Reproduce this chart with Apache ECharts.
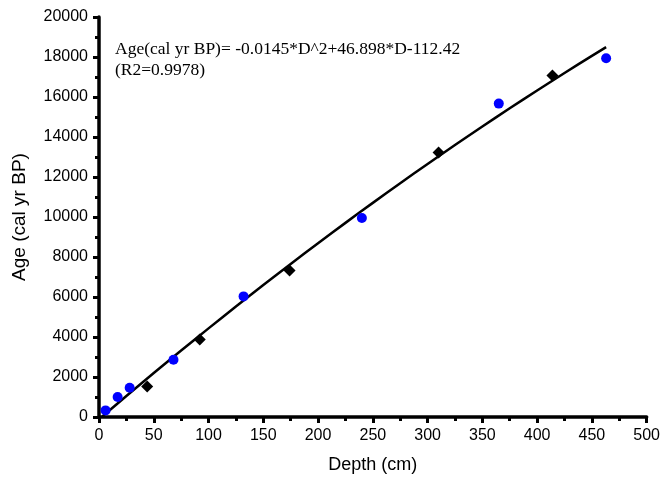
<!DOCTYPE html>
<html>
<head>
<meta charset="utf-8">
<script src="https://cdn.jsdelivr.net/npm/echarts@6/dist/echarts.min.js"></script>
<style>
html,body{margin:0;padding:0;background:#fff;}
#chart{width:663px;height:479px;}
</style>
</head>
<body>
<div id="chart"></div>
<script>
// Dated samples (blue circles)
const circleDepth = [6, 17, 28, 68, 132, 240, 365, 463];
const circleAge   = [330, 1000, 1460, 2860, 6030, 9950, 15670, 17940];
// Dated samples (black diamonds)
const diamondDepth = [44, 92, 174, 310, 414];
const diamondAge   = [1530, 3880, 7320, 13230, 17080];
// Fitted curve
const fitDepth = [3, 25, 50, 75, 100, 125, 150, 175, 200, 225, 250, 275, 300, 325, 350, 375, 400, 425, 450, 463];
const fitAge   = [28, 1051, 2196, 3323, 4432, 5523, 6596, 7651, 8687, 9706, 10706, 11688, 12652, 13598, 14526, 15435, 16327, 17200, 18055, 18493];

const eqLine1 = 'Age(cal yr BP)= -0.0145*D^2+46.898*D-112.42';
const eqLine2 = '(R2=0.9978)';

const zip = (a, b) => a.map((v, i) => [v, b[i]]);

const chart = echarts.init(document.getElementById('chart'));
function lineStyles() {
  return {
    axisLine: {show: true, onZero: false, lineStyle: {color: '#000000', width: 3.5, opacity: 1}},
    axisTick: {show: true, inside: false, length: 6, lineStyle: {color: '#000000', width: 3, opacity: 1}},
    minorTick: {show: true, splitNumber: 2, length: 4, lineStyle: {color: '#000000', width: 3, opacity: 1}}
  };
}
function makeAxis(extra) {
  return Object.assign(lineStyles(), {
    splitLine: {show: false},
    axisLabel: {color: '#000', fontFamily: 'Liberation Sans, Arial', fontSize: 16, margin: 11, formatter: v => String(v)}
  }, extra);
}
chart.setOption({
  animation: false,
  grid: {left: 99, right: 15, top: 17, bottom: 60},
  xAxis: makeAxis({
    type: 'value', min: 0, max: 500, interval: 50,
    name: 'Depth (cm)', nameLocation: 'middle', nameGap: 39,
    nameTextStyle: {color: '#000', fontFamily: 'Liberation Sans, Arial', fontSize: 18}
  }),
  yAxis: makeAxis({
    type: 'value', min: 0, max: 20000, interval: 2000,
    name: 'Age (cal yr BP)', nameLocation: 'middle', nameGap: 70, nameRotate: 90,
    nameTextStyle: {color: '#000', fontFamily: 'Liberation Sans, Arial', fontSize: 19}
  }),
  graphic: [
    {type: 'text', left: 115, top: 40, style: {text: eqLine1, fill: '#000', font: '17.5px "Liberation Serif", "Times New Roman", serif'}},
    {type: 'text', left: 115, top: 61, style: {text: eqLine2, fill: '#000', font: '17.5px "Liberation Serif", "Times New Roman", serif'}}
  ],
  series: [
    {
      type: 'line', data: zip(fitDepth, fitAge), smooth: true, showSymbol: false,
      lineStyle: {color: '#000', width: 2.5}, z: 2
    },
    {
      type: 'scatter', data: zip(circleDepth, circleAge), symbol: 'circle', symbolSize: 10,
      itemStyle: {color: '#0000ff', opacity: 1}, z: 3
    },
    {
      type: 'scatter', data: zip(diamondDepth, diamondAge), symbol: 'diamond', symbolSize: 12,
      itemStyle: {color: '#000', opacity: 1}, z: 3
    }
  ]
});
</script>
</body>
</html>
